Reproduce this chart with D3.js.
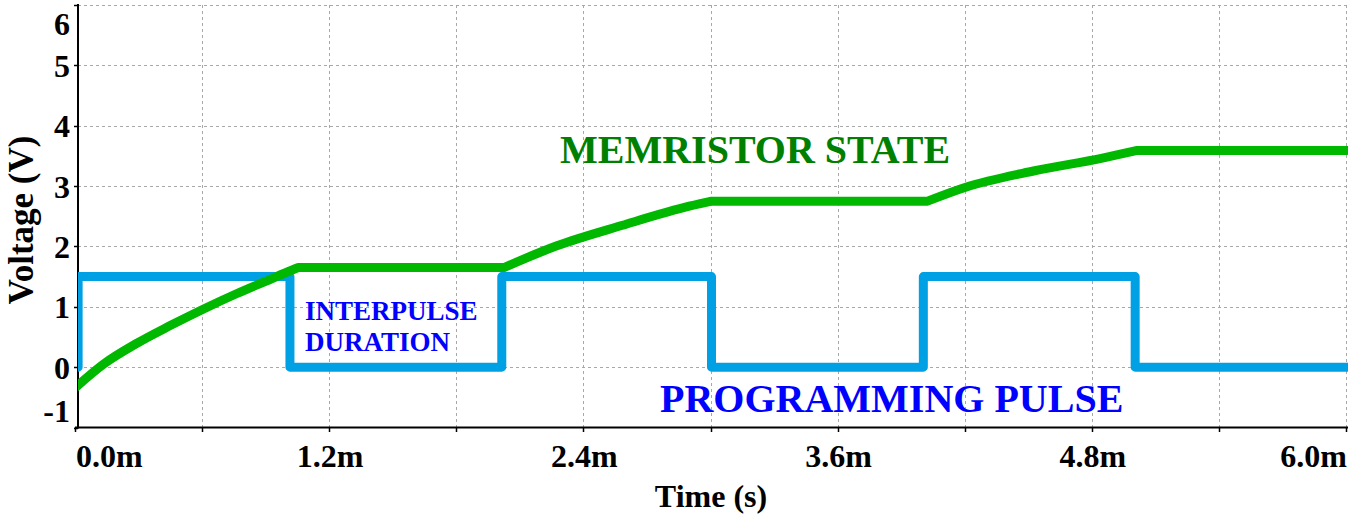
<!DOCTYPE html>
<html>
<head>
<meta charset="utf-8">
<script src="https://cdn.jsdelivr.net/npm/d3@7"></script>
<style>
  html, body { margin: 0; padding: 0; background: #fff; }
  svg { display: block; }
  text { font-family: "Liberation Serif", "Times New Roman", serif; font-weight: bold; }
</style>
</head>
<body>
<svg id="chart" width="1348" height="518"></svg>
<script>
// ---- data ----
const xTicks = [0, 1.2, 2.4, 3.6, 4.8, 6.0];
const xTickLabels = ["0.0m", "1.2m", "2.4m", "3.6m", "4.8m", "6.0m"];
const xGrid = [0.6, 1.2, 1.8, 2.4, 3.0, 3.6, 4.2, 4.8, 5.4, 6.0];
const yTicks = [-1, 0, 1, 2, 3, 4, 5, 6];
const yTickLabels = ["-1", "0", "1", "2", "3", "4", "5", "6"];

// programming pulse (ms, V) - step after
const pulseTime = [0.01, 0.01, 1.01, 2.01, 3.0, 4.0, 5.0, 6.0];
const pulseVolt = [0, 1.5, 0, 1.5, 0, 1.5, 0, 0];

// memristor state (ms, V)
const stateTime = [0, 0.13, 0.29, 0.44, 0.60, 0.76, 0.92, 1.0, 1.05, 2.02, 2.27, 2.58, 2.90, 3.0, 4.02, 4.2, 4.52, 4.84, 5.01, 6.0];
const stateVolt = [-0.33, 0.05, 0.40, 0.68, 0.96, 1.22, 1.46, 1.58, 1.65, 1.65, 2.01, 2.35, 2.67, 2.75, 2.75, 2.98, 3.25, 3.46, 3.59, 3.59];

// ---- layout ----
const svg = d3.select("#chart");
const x = d3.scaleLinear().domain([0, 6]).range([76, 1347]);
const y = d3.scaleLinear().domain([-1, 6]).range([427.5, 5]);
const axisX = 78;

svg.append("defs").append("clipPath").attr("id", "clip")
  .append("rect").attr("x", axisX).attr("y", 0).attr("width", 1348 - axisX).attr("height", 428);

// grid
const grid = svg.append("g").attr("stroke", "#a8a8a8").attr("stroke-width", 1).attr("stroke-dasharray", "3,3");
grid.selectAll("line.h").data(yTicks.filter(d => d > -1)).join("line")
  .attr("x1", axisX).attr("x2", 1347).attr("y1", d => Math.round(y(d)) + 0.5).attr("y2", d => Math.round(y(d)) + 0.5);
grid.selectAll("line.v").data(xGrid).join("line")
  .attr("x1", d => Math.round(x(d)) - 0.5).attr("x2", d => Math.round(x(d)) - 0.5)
  .attr("y1", 5).attr("y2", 427);

// axes lines
svg.append("line").attr("x1", axisX).attr("x2", axisX).attr("y1", 4).attr("y2", 428.5)
  .attr("stroke", "#000").attr("stroke-width", 2);
svg.append("line").attr("x1", 75).attr("x2", 1348).attr("y1", 427.5).attr("y2", 427.5)
  .attr("stroke", "#000").attr("stroke-width", 2);

svg.selectAll("line.yt").data(yTicks).join("line")
  .attr("x1", 74).attr("x2", axisX).attr("y1", d => Math.round(y(d)) + 0.5).attr("y2", d => Math.round(y(d)) + 0.5)
  .attr("stroke", "#000").attr("stroke-width", 1.5);
svg.selectAll("line.xt").data([0].concat(xGrid)).join("line")
  .attr("x1", d => Math.round(x(d)) - 0.5).attr("x2", d => Math.round(x(d)) - 0.5)
  .attr("y1", 427).attr("y2", 432)
  .attr("stroke", "#000").attr("stroke-width", 1.5);

svg.selectAll("text.yl").data(yTicks).join("text")
  .attr("x", 70)
  .attr("y", d => Math.max(35, Math.min(422, y(d) + 11.5)))
  .attr("text-anchor", "end")
  .attr("font-size", 32)
  .attr("fill", "#000")
  .text((d, i) => yTickLabels[i]);

svg.selectAll("text.xl").data(xTicks).join("text")
  .attr("x", d => x(d))
  .attr("y", 467)
  .attr("text-anchor", (d, i) => i === 0 ? "start" : (i === xTicks.length - 1 ? "end" : "middle"))
  .attr("font-size", 32)
  .attr("fill", "#000")
  .text((d, i) => xTickLabels[i]);

svg.append("text").attr("x", 711).attr("y", 507).attr("text-anchor", "middle")
  .attr("font-size", 32).attr("fill", "#000").text("Time (s)");
svg.append("text").attr("transform", "translate(33,220) rotate(-90)").attr("text-anchor", "middle")
  .attr("font-size", 35).attr("fill", "#000").text("Voltage (V)");

// series
const plot = svg.append("g").attr("clip-path", "url(#clip)");
const pulseLine = d3.line().x((d, i) => x(pulseTime[i])).y((d, i) => y(pulseVolt[i])).curve(d3.curveStepAfter);
plot.append("path").attr("d", pulseLine(pulseTime))
  .attr("fill", "none").attr("stroke", "rgb(0,160,228)").attr("stroke-width", 9)
  .attr("stroke-linejoin", "round").attr("stroke-linecap", "round");

// split state into pieces at flat/ramp boundaries, smooth ramps
const pts = stateTime.map((t, i) => [t, stateVolt[i]]);
const pieces = [];
let cur = [pts[0]];
for (let i = 1; i < pts.length; i++) {
  const flatPrev = cur.length >= 2 && cur[cur.length - 1][1] === cur[cur.length - 2][1];
  const flatNow = pts[i][1] === pts[i - 1][1];
  if (cur.length >= 2 && flatPrev !== flatNow) {
    pieces.push(cur);
    cur = [pts[i - 1]];
  }
  cur.push(pts[i]);
}
pieces.push(cur);
const stateLine = d3.line().x(d => x(d[0])).y(d => y(d[1])).curve(d3.curveMonotoneX);
plot.append("path").attr("d", pieces.map(p => stateLine(p)).join(""))
  .attr("fill", "none").attr("stroke", "rgb(0,184,0)").attr("stroke-width", 9)
  .attr("stroke-linejoin", "miter").attr("stroke-linecap", "round");

// annotations
svg.append("text").attr("x", 560).attr("y", 163).attr("font-size", 40).attr("fill", "#008000").text("MEMRISTOR STATE");
svg.append("text").attr("x", 660).attr("y", 412).attr("font-size", 40).attr("fill", "#0000ff").text("PROGRAMMING PULSE");
svg.append("text").attr("x", 305).attr("y", 320).attr("font-size", 27).attr("fill", "#0000ff").text("INTERPULSE");
svg.append("text").attr("x", 305).attr("y", 351).attr("font-size", 27).attr("fill", "#0000ff").text("DURATION");
</script>
</body>
</html>
